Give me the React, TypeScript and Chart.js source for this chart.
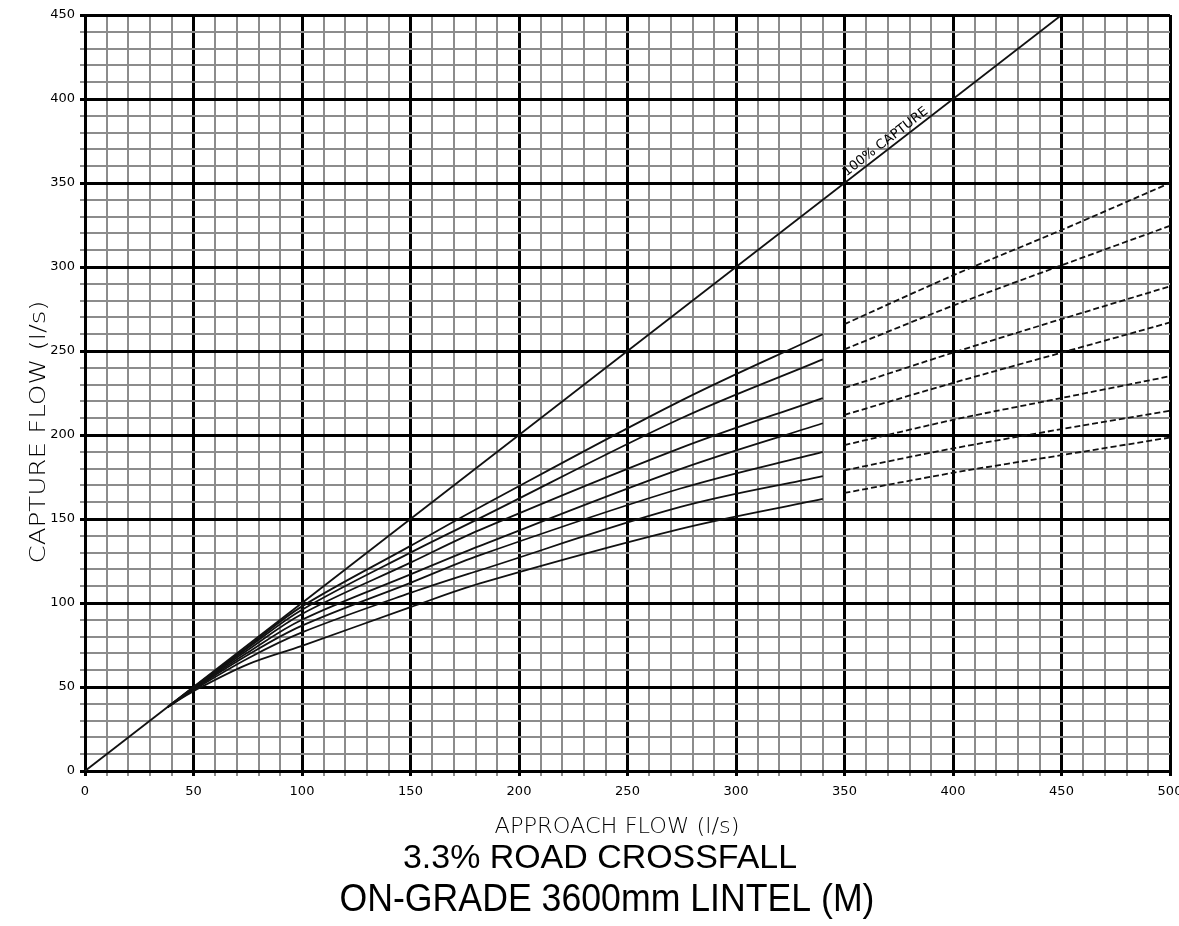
import React, { useEffect, useRef } from "react";
import { Chart, registerables } from "chart.js";

Chart.register(...registerables);

// ---- data ----
const captureLineX = [0, 450];
const captureLineY = [0, 450];

const solidX = [38, 50, 75, 100, 150, 182, 274, 340];
const solid1 = [38, 49.8, 74, 98, 134, 157, 220, 260];
const solid2 = [38, 49.6, 73.2, 96, 130, 150.5, 209.5, 245];
const solid3 = [38, 49.3, 72, 93.5, 124, 143.5, 192, 222];
const solid4 = [38, 49, 70.5, 90, 117, 134, 179.5, 207];
const solid5 = [38, 48.6, 69, 86.5, 112, 128.5, 168, 190];
const solid6 = [38, 48.2, 67, 82.5, 106, 119.5, 157, 175.5];
const solid7 = [38, 47.5, 63.5, 74.5, 97.5, 111.7, 144, 162];

const dashX = [350, 400, 450, 500];
const dash1 = [266, 295, 322, 350];
const dash2 = [251, 277, 301, 324.5];
const dash3 = [228, 249, 269, 288.5];
const dash4 = [212, 231, 249, 267];
const dash5 = [194, 209, 222, 235];
const dash6 = [179, 192, 203.5, 214.5];
const dash7 = [165.5, 177.5, 188, 198.5];

const xTickLabels = [0, 50, 100, 150, 200, 250, 300, 350, 400, 450, 500];
const yTickLabels = [0, 50, 100, 150, 200, 250, 300, 350, 400, 450];

const xAxisTitle = "APPROACH FLOW (l/s)";
const yAxisTitle = "CAPTURE FLOW (l/s)";
const subTitle = "3.3% ROAD CROSSFALL";
const mainTitle = "ON-GRADE 3600mm LINTEL (M)";
const captureLabel = "100% CAPTURE";

const toPts = (xs: number[], ys: number[]) => xs.map((x, i) => ({ x, y: ys[i] }));

const TICK_FONT = "'DejaVu Sans', sans-serif";
const ARIAL = "'Liberation Sans', Arial, sans-serif";

function drawFitted(
  ctx: CanvasRenderingContext2D,
  text: string,
  cx: number,
  baseY: number,
  width: number,
  font: string,
  angle = 0
) {
  ctx.save();
  ctx.font = font;
  const w = ctx.measureText(text).width;
  ctx.translate(cx, baseY);
  ctx.rotate(angle);
  ctx.scale(width / w, 1);
  ctx.textAlign = "center";
  ctx.textBaseline = "alphabetic";
  ctx.fillStyle = "#000";
  ctx.fillText(text, 0, 0);
  ctx.restore();
}

const textPlugin = {
  id: "textPlugin",
  afterDraw(chart: any) {
    const ctx: CanvasRenderingContext2D = chart.ctx;
    const xs = chart.scales.x;
    const ys = chart.scales.y;
    // 100% capture label along the line
    const ax = xs.getPixelForValue(371);
    const ay = ys.getPixelForValue(371);
    const bx = xs.getPixelForValue(471);
    const by = ys.getPixelForValue(471);
    const ang = Math.atan2(by - ay, bx - ax);
    ctx.save();
    ctx.translate(ax, ay);
    ctx.rotate(ang);
    ctx.font = `13px ${TICK_FONT}`;
    ctx.textAlign = "center";
    ctx.textBaseline = "alphabetic";
    ctx.fillStyle = "#000";
    const w = ctx.measureText(captureLabel).width;
    ctx.scale(104 / w, 1);
    ctx.fillText(captureLabel, 0, -4);
    ctx.restore();

    // axis titles and chart titles
    drawFitted(ctx, xAxisTitle, 617, 833, 245, `200 21px ${TICK_FONT}`);
    drawFitted(ctx, yAxisTitle, 45, 432, 263, `200 21px ${TICK_FONT}`, -Math.PI / 2);
    drawFitted(ctx, subTitle, 600, 868, 394, `33px ${ARIAL}`);
    drawFitted(ctx, mainTitle, 607, 911, 535, `38px ${ARIAL}`);
  },
};

export default function App() {
  const ref = useRef<HTMLCanvasElement | null>(null);

  useEffect(() => {
    if (!ref.current) return;
    const solidStyle = {
      borderColor: "#111",
      borderWidth: 1.8,
      pointRadius: 0,
      fill: false,
      tension: 0.35,
    };
    const dashStyle = {
      borderColor: "#111",
      borderWidth: 1.8,
      pointRadius: 0,
      fill: false,
      tension: 0.3,
      borderDash: [6, 3],
    };
    const solids = [solid1, solid2, solid3, solid4, solid5, solid6, solid7];
    const dashes = [dash1, dash2, dash3, dash4, dash5, dash6, dash7];
    const datasets: any[] = [
      { label: "100% CAPTURE", data: toPts(captureLineX, captureLineY), ...solidStyle, tension: 0 },
      ...solids.map((s, i) => ({ label: `curve ${i + 1}`, data: toPts(solidX, s), ...solidStyle })),
      ...dashes.map((s, i) => ({ label: `extension ${i + 1}`, data: toPts(dashX, s), ...dashStyle })),
    ];
    const gridColor = (c: any) => (c.tick && c.tick.value % 50 === 0 ? "#000" : "#8c8c8c");
    const gridWidth = (c: any) => (c.tick && c.tick.value % 50 === 0 ? 3 : 2);

    const chart = new Chart(ref.current, {
      type: "line",
      data: { datasets },
      plugins: [textPlugin],
      options: {
        animation: false,
        responsive: false,
        layout: { padding: { left: 0, right: 9, top: 15, bottom: 0 } },
        plugins: { legend: { display: false }, tooltip: { enabled: false }, title: { display: false } },
        scales: {
          x: {
            type: "linear",
            min: 0,
            max: 500,
            ticks: {
              stepSize: 10,
              autoSkip: false,
              maxRotation: 0,
              padding: 8,
              color: "#000",
              font: { family: TICK_FONT, size: 13 },
              callback: (v: any) => (xTickLabels.includes(Number(v)) ? String(v) : ""),
            },
            grid: { color: gridColor, lineWidth: gridWidth, tickLength: 5, tickColor: gridColor, tickWidth: gridWidth },
            border: { display: true, color: "#000", width: 3 },
            afterFit: (s: any) => {
              s.height = 155;
              s.paddingLeft = 0;
              s.paddingRight = 0;
            },
          },
          y: {
            type: "linear",
            min: 0,
            max: 450,
            ticks: {
              stepSize: 10,
              autoSkip: false,
              padding: 5,
              color: "#000",
              font: { family: TICK_FONT, size: 13 },
              callback: (v: any) => (yTickLabels.includes(Number(v)) ? String(v) : ""),
            },
            grid: { color: gridColor, lineWidth: gridWidth, tickLength: 5, tickColor: gridColor, tickWidth: gridWidth },
            border: { display: true, color: "#000", width: 3 },
            afterFit: (s: any) => {
              s.width = 85;
              s.paddingTop = 0;
              s.paddingBottom = 0;
            },
          },
        },
      },
    });
    return () => chart.destroy();
  }, []);

  return (
    <div style={{ position: "absolute", left: 0, top: 0, width: 1179, height: 926, background: "#fff" }}>
      <canvas ref={ref} width={1179} height={926} style={{ display: "block", width: 1179, height: 926 }} />
    </div>
  );
}
